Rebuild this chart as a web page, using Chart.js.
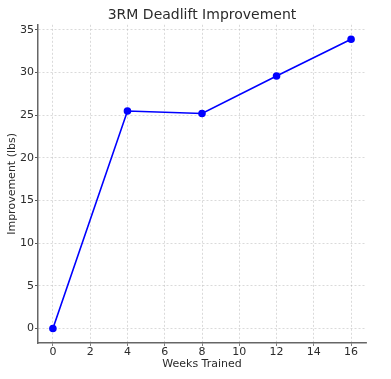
<!DOCTYPE html>
<html>
<head>
<meta charset="utf-8">
<script src="https://cdn.jsdelivr.net/npm/chart.js@4.4.0/dist/chart.umd.min.js"></script>
<style>
html,body{margin:0;padding:0;background:#fff;}
#wrap{width:391px;height:379px;}
</style>
</head>
<body>
<div id="wrap"><canvas id="c" width="391" height="379"></canvas></div>
<script>
const weeks = [0, 4, 8, 12, 16];
const improvement = [0, 25.5, 25.2, 29.6, 33.9];
const xTicks = [0, 2, 4, 6, 8, 10, 12, 14, 16];
const yTicks = [0, 5, 10, 15, 20, 25, 30, 35];
const titleText = '3RM Deadlift Improvement';
const xLabel = 'Weeks Trained';
const yLabel = 'Improvement (lbs)';

const font = "'DejaVu Sans', sans-serif";
const textColor = '#2b2b2b';
const gridColor = 'rgba(176,176,176,0.6)';

new Chart(document.getElementById('c'), {
  type: 'line',
  data: {
    datasets: [{
      data: weeks.map((w, i) => ({x: w, y: improvement[i]})),
      borderColor: '#0000ff',
      backgroundColor: '#0000ff',
      borderWidth: 1.6,
      pointRadius: 3,
      pointHoverRadius: 3,
      tension: 0,
      fill: false
    }]
  },
  options: {
    responsive: false,
    animation: false,
    devicePixelRatio: 1,
    layout: {padding: {left: 0, right: 25, top: 0, bottom: 0}},
    plugins: {
      legend: {display: false},
      tooltip: {enabled: false},
      title: {
        display: true,
        fullSize: false,
        text: titleText,
        color: textColor,
        font: {family: font, size: 14, weight: 'normal', lineHeight: 1.2},
        padding: {top: 7, bottom: 1}
      }
    },
    scales: {
      x: {
        type: 'linear',
        min: -0.8,
        max: 16.8,
        afterBuildTicks: s => { s.ticks = xTicks.map(v => ({value: v})); },
        afterFit: s => { s.height = 36; },
        ticks: {color: textColor, font: {family: font, size: 11, lineHeight: 1.1}, padding: 0, maxRotation: 0},
        grid: {color: gridColor, lineWidth: 0.8, drawTicks: true, tickLength: 3, tickColor: '#555', tickBorderDash: [1, 0], tickWidth: 1},
        border: {display: true, color: '#666', width: 1.5, dash: [2, 2]},
        title: {display: true, text: xLabel, color: textColor, font: {family: font, size: 11, lineHeight: 1}, padding: {top: 0, bottom: 9}}
      },
      y: {
        type: 'linear',
        min: -1.7,
        max: 35.6,
        afterBuildTicks: s => { s.ticks = yTicks.map(v => ({value: v})); },
        afterFit: s => { s.width = 38; },
        ticks: {color: textColor, font: {family: font, size: 11}, padding: 1},
        grid: {color: gridColor, lineWidth: 0.8, drawTicks: true, tickLength: 3, tickColor: '#555', tickBorderDash: [1, 0], tickWidth: 1},
        border: {display: true, color: '#666', width: 1.5, dash: [2, 2]},
        title: {display: true, text: yLabel, color: textColor, font: {family: font, size: 11}, padding: {top: 6, bottom: 0}}
      }
    }
  }
});
</script>
</body>
</html>
